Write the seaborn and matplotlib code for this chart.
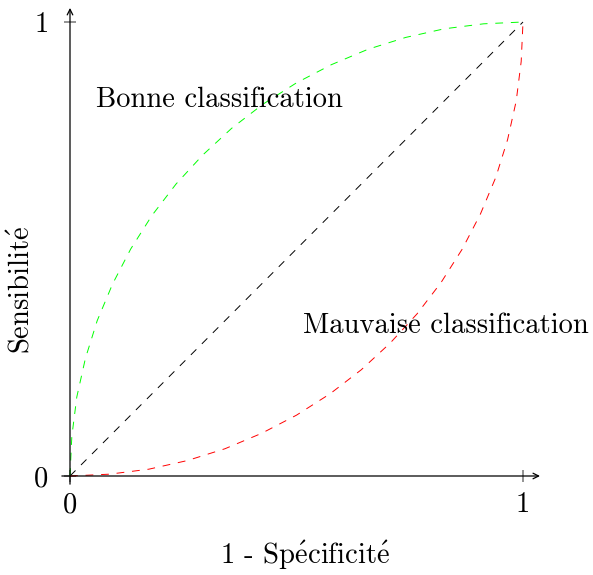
import matplotlib
matplotlib.use("Agg")
import matplotlib.pyplot as plt
import seaborn as sns
import pandas as pd

# points (green = good classifier, red = bad one)
good_fpr = [0.0, 0.004, 0.015, 0.034, 0.060, 0.094, 0.134, 0.181, 0.234, 0.293,
            0.357, 0.426, 0.500, 0.577, 0.658, 0.741, 0.826, 0.913, 1.0]
good_tpr = [0.0, 0.087, 0.174, 0.259, 0.342, 0.423, 0.500, 0.574, 0.643, 0.707,
            0.766, 0.819, 0.866, 0.906, 0.940, 0.966, 0.985, 0.996, 1.0]
bad_fpr = good_tpr
bad_tpr = good_fpr
rand_fpr = [0.0, 1.0]
rand_tpr = [0.0, 1.0]

tick_values = [0, 1]
tick_labels = ["0", "1"]

sns.set_style("white")
plt.rcParams['font.family'] = ['cmr10', 'DejaVu Serif']
plt.rcParams['axes.unicode_minus'] = False
plt.rcParams['mathtext.fontset'] = 'cm'
plt.rcParams['text.color'] = 'black'

fig = plt.figure(figsize=(5.93, 5.75), dpi=100)
ax = fig.add_axes([70 / 593, 99 / 575, 453 / 593, 454 / 575])

curves = [
    (rand_fpr, rand_tpr, "black"),
    (good_fpr, good_tpr, "#00ff00"),
    (bad_fpr, bad_tpr, "#ff0000"),
]
for xs, ys, col in curves:
    df = pd.DataFrame({"fpr": xs, "tpr": ys})
    sns.lineplot(data=df, x="fpr", y="tpr", sort=False, estimator=None,
                 color=col, linewidth=0.7, ax=ax)
for line in ax.lines:
    line.set_dashes((8, 8))
    line.set_clip_on(False)

ax.set_xlim(0, 1)
ax.set_ylim(0, 1)
for sp in ax.spines.values():
    sp.set_visible(False)

# axes with arrow heads
arrow = dict(arrowstyle="->", color="black", lw=0.9, shrinkA=0, shrinkB=0,
             mutation_scale=10)
ax.annotate("", xy=(1.0375, 0), xytext=(-0.018, 0), xycoords="data",
            arrowprops=arrow, annotation_clip=False)
ax.annotate("", xy=(0, 1.031), xytext=(0, -0.018), xycoords="data",
            arrowprops=arrow, annotation_clip=False)

ax.set_xticks(tick_values)
ax.set_xticklabels(tick_labels)
ax.set_yticks(tick_values)
ax.set_yticklabels(tick_labels)
ax.tick_params(bottom=True, left=True, direction="inout", length=9, width=1.2,
               color="gray", labelsize=20.6, labelcolor="black")
ax.tick_params(axis="x", pad=7)
ax.tick_params(axis="y", pad=11)

ax.set_xlabel("")
ax.set_ylabel("")
acc = r"$\acute{\mathrm{e}}$"
ax.text(0.519, -0.176, "1 - Sp" + acc + "cificit" + acc, fontsize=20.6,
        ha="center", va="center")
ax.text(-0.106, 0.41, "Sensibilit" + acc, fontsize=20.6, ha="center", va="center",
        rotation=90)
ax.text(0.057, 0.828, "Bonne classification", fontsize=20.6, ha="left", va="center")
ax.text(0.515, 0.330, "Mauvaise classification", fontsize=20.6, ha="left", va="center")

fig.savefig("out.png", dpi=100)
